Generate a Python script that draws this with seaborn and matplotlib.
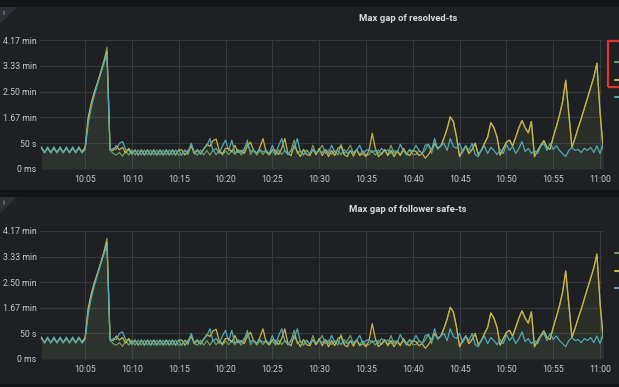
import numpy as np
import pandas as pd
import matplotlib
matplotlib.use("Agg")
import matplotlib.pyplot as plt
import matplotlib.dates as mdates
from matplotlib.patches import Rectangle, Polygon
import seaborn as sns

# samples every 20 s from 10:00:20 to 11:00:20, values in seconds
yellow = [
    41, 32, 41, 32, 41, 32, 41, 32, 41, 32, 41, 32, 42, 33, 42,
    100, 128, 150, 168, 188, 208, 228, 38, 36, 45, 37, 42, 31, 40, 30,
    37, 27, 37, 27, 37, 27, 37, 27, 37, 27, 37, 27, 37, 27, 37,
    37, 27, 36, 45, 30, 36, 30, 38, 48, 44, 55, 58, 35, 30, 40,
    40, 33, 46, 32, 36, 30, 45, 52, 36, 30, 42, 59, 33, 28, 38,
    36, 28, 40, 59, 30, 26, 46, 34, 24, 38, 28, 26, 38, 28, 40,
    26, 38, 24, 36, 26, 40, 44, 28, 24, 36, 25, 38, 26, 30, 24,
    36, 69, 40, 24, 30, 38, 26, 36, 24, 34, 26, 40, 30, 26, 36,
    34, 26, 30, 21, 28, 38, 50, 40, 45, 60, 78, 101, 92, 63, 24,
    36, 45, 30, 38, 50, 28, 36, 50, 62, 90, 80, 62, 27, 40, 52,
    56, 45, 62, 80, 94, 80, 70, 92, 24, 36, 46, 55, 42, 38, 62,
    82, 104, 130, 172, 107, 42, 60, 80, 98, 118, 138, 158, 178, 205, 110, 40,
]
cyan = [
    43, 31, 43, 31, 43, 31, 43, 31, 43, 31, 43, 31, 43, 31, 38,
    88, 120, 144, 165, 185, 204, 222, 36, 40, 38, 50, 53, 38, 36, 28,
    37, 27, 37, 27, 37, 27, 37, 27, 37, 27, 37, 27, 37, 27, 37,
    27, 37, 30, 50, 32, 38, 28, 40, 45, 59, 35, 40, 30, 45, 56,
    35, 56, 30, 38, 32, 40, 50, 34, 37, 30, 38, 33, 36, 30, 46,
    30, 45, 59, 36, 28, 36, 40, 59, 33, 28, 36, 30, 38, 32, 36,
    32, 38, 30, 46, 33, 36, 28, 38, 30, 36, 32, 37, 46, 30, 36,
    38, 32, 36, 30, 40, 34, 37, 30, 36, 32, 48, 35, 30, 38, 33,
    46, 36, 30, 46, 48, 36, 59, 38, 45, 50, 36, 59, 44, 40, 50,
    32, 45, 36, 50, 28, 24, 38, 44, 30, 42, 36, 28, 38, 30, 48,
    36, 44, 30, 40, 53, 34, 40, 30, 36, 30, 44, 50, 36, 50, 38,
    45, 36, 30, 24, 36, 42, 36, 38, 32, 40, 36, 42, 32, 45, 30, 50,
]
green = [
    40, 33, 40, 33, 40, 33, 40, 33, 40, 33, 40, 33, 40, 33, 40,
    95, 125, 148, 167, 187, 208, 236, 37, 30, 27, 32, 25, 35, 27, 37,
    27, 37, 27, 37, 27, 37, 27, 37, 27, 37, 27, 37, 27, 37, 27,
    28, 36, 28, 48, 30, 27, 37, 27, 36, 27, 37, 28, 36, 27, 35,
    28, 36, 28, 37, 27, 36, 56, 28, 37, 27, 36, 28, 37, 27, 36,
    27, 37, 28, 36, 28, 37, 56, 30, 36, 27, 37, 28, 46, 28, 37,
    46, 30, 37, 28, 36, 27, 48, 30, 36, 46, 30, 37, 28, 36, 27,
    28, 36, 27, 37, 28, 36, 28, 46, 30, 36, 28, 36, 27, 37, 28,
    28, 36, 30, 37, 48, 30, 50, 40, 45, 60, 78, 101, 92, 63, 24,
    36, 45, 30, 38, 50, 28, 36, 50, 62, 90, 80, 62, 27, 40, 52,
    56, 45, 62, 80, 94, 80, 70, 92, 24, 36, 46, 55, 42, 38, 62,
    82, 104, 130, 172, 107, 42, 60, 80, 98, 118, 138, 158, 178, 205, 110, 40,
]

titles = ["Max gap of resolved-ts", "Max gap of follower safe-ts"]
ytick_vals = [0, 50, 100, 150, 200, 250]
ytick_labels = ["0 ms", "50 s", "1.67 min", "2.50 min", "3.33 min", "4.17 min"]

times = pd.date_range("2021-06-01 10:00:20", periods=len(yellow), freq="20s")
df = pd.concat([
    pd.DataFrame({"time": times, "sec": green, "series": "green"}),
    pd.DataFrame({"time": times, "sec": yellow, "series": "yellow"}),
    pd.DataFrame({"time": times, "sec": cyan, "series": "cyan"}),
])
colors = {"green": "#6f9e5c", "yellow": "#cdb441", "cyan": "#52a9b6"}

sns.set_theme(style="dark")
plt.rcParams["font.family"] = ["Roboto", "DejaVu Sans"]

W, H = 619, 387
PAGE = "#141518"
PANEL = "#1f2024"
fig = plt.figure(figsize=(W / 100, H / 100), dpi=100, facecolor=PAGE)

# panel boxes: (panel top, panel bottom, axes top, axes bottom, title y) in pixels
boxes = [(7, 190, 40, 169, 18), (197, 384, 231, 359, 209)]

for k, (ptop, pbot, atop, abot, ty) in enumerate(boxes):
    # panel background as a bare axes underneath everything
    bg = fig.add_axes([0, 1 - pbot / H, 1, (pbot - ptop) / H], zorder=0)
    bg.set_facecolor(PANEL)
    bg.set_xlim(0, W)
    bg.set_ylim(pbot, ptop)
    bg.axis("off")
    bg.add_patch(Rectangle((0, ptop), W, pbot - ptop, color=PANEL, zorder=0))
    bg.add_patch(Polygon([(0, ptop), (16, ptop), (0, ptop + 16)], closed=True, color="#2e3035", zorder=1))
    bg.text(3, ptop + 6, "i", fontsize=5.5, color="#aeb2b8", ha="center", va="center")
    bg.text(408, ty, titles[k], fontsize=6.8, weight="bold", color="#d8d9da", ha="center", va="center")
    # cut-off legend marks at the right edge
    for yy, c in zip([62, 80, 97], ["green", "yellow", "cyan"]):
        bg.plot([615, W], [yy + atop - 40] * 2, color=colors[c], lw=1.5, clip_on=False)

    ax = fig.add_axes([40 / W, 1 - abot / H, 563 / W, (abot - atop) / H], zorder=2)
    ax.set_facecolor(PANEL)
    for name in ["green", "yellow", "cyan"]:
        sub = df[df.series == name]
        ax.fill_between(sub.time, sub.sec, 0, color=colors[name], alpha=0.05, lw=0)
    sns.lineplot(data=df, x="time", y="sec", hue="series", hue_order=["green", "yellow", "cyan"],
                 palette=colors, legend=False, lw=0.9, ax=ax)

    ax.set_xlim(pd.Timestamp("2021-06-01 10:00:11"), pd.Timestamp("2021-06-01 11:00:19"))
    ax.set_ylim(0, 250)
    ax.set_yticks(ytick_vals)
    ax.set_yticklabels(ytick_labels)
    ax.xaxis.set_major_locator(mdates.MinuteLocator(byminute=range(0, 60, 5)))
    ax.xaxis.set_major_formatter(mdates.DateFormatter("%H:%M"))
    ax.grid(True, color="#36383d", lw=0.8)
    ax.set_xlabel("")
    ax.set_ylabel("")
    for s in ax.spines.values():
        s.set_visible(False)
    ax.tick_params(axis="both", length=0, labelsize=6.3, colors="#c4c8cc")
    ax.tick_params(axis="y", pad=2.5)
    ax.tick_params(axis="x", pad=4.5)

# red highlight box around legend of the first panel
fig.patches.append(Rectangle((608 / W, 1 - 87 / H), 20 / W, 46 / H, transform=fig.transFigure,
                             fill=False, edgecolor="#e0342c", lw=1.6, zorder=5))

fig.savefig("out.png", dpi=100, facecolor=PAGE)
